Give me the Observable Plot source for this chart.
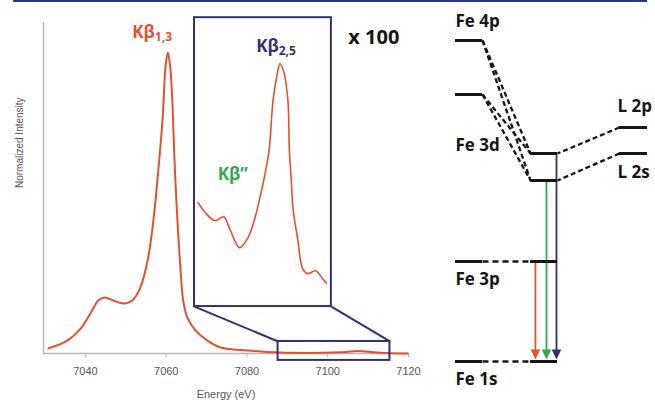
<!DOCTYPE html>
<html><head><meta charset="utf-8">
<script src="https://cdn.jsdelivr.net/npm/d3@7"></script>
<script src="https://cdn.jsdelivr.net/npm/@observablehq/plot@0.6"></script>
<style>
html,body{margin:0;padding:0;background:#fff;}
#chart{position:relative;width:655px;height:400px;overflow:hidden;background:#fff;}
#chart svg{position:absolute;}
#rule{position:absolute;left:13px;top:0;width:634px;height:2px;background:#2a3580;}
</style></head><body>
<div id="chart"><div id="rule"></div></div>
<script>
// ---- main Kβ spectrum (energy in eV, normalized intensity) ----
const energy = [7030.8,7035.5,7038.8,7041.2,7043.2,7044.7,7046.9,7049.4,7051.6,7053.6,7055.4,7056.8,7057.8,7059.1,7059.8,7060.4,7061.0,7061.5,7062.0,7062.5,7063.5,7064.2,7065.2,7067.3,7070.2,7073.5,7080.1,7088.3,7095.0,7103.0,7107.4,7110.6,7114.3,7119.8];
const intensity = [0.017,0.043,0.083,0.133,0.176,0.186,0.176,0.166,0.176,0.22,0.31,0.44,0.575,0.78,0.95,1.0,0.95,0.84,0.66,0.51,0.286,0.176,0.12,0.076,0.043,0.02,0.01,0.003,0.002,0.004,0.008,0.005,0.002,0.0];
// ---- valence-to-core region, magnified x 100 ----
const insetEnergy = [7088.4,7089.8,7091.8,7093.6,7094.8,7096.8,7098.6,7100.2,7100.8,7101.6,7102.2,7102.8,7103.6,7104.4,7105.0,7105.8,7106.6,7106.9,7107.3,7107.6,7108.6,7109.6,7110.6,7112.2,7113.6,7114.4];
const insetIntensity = [1.08,0.98,0.89,0.93,0.81,0.61,0.72,0.97,1.10,1.28,1.44,1.62,2.14,2.40,2.52,2.43,2.14,1.62,1.30,1.03,0.69,0.39,0.34,0.37,0.29,0.24];
const xTicks = [7040,7060,7080,7100,7120];
const zoomWindow = [7087.7,7115.4];
const peakLabels = ["Kβ_1,3","Kβ_2,5","Kβ”"];
const magnification = "x 100";
// ---- energy level diagram (arbitrary energy units) ----
const valenceNames = ["Fe 4p","Fe 3d"];
const valenceEnergies = [36.0,30.6];
const coreNames = ["Fe 3p","Fe 1s"];
const coreEnergies = [13.9,3.9];
const moEnergies = [24.7,22.0];
const ligandNames = ["L 2p","L 2s"];
const ligandEnergies = [27.3,24.7];
const transitionFrom = [13.9,22.0,24.7]; // Kβ1,3 / Kβ'' / Kβ2,5 -> Fe 1s

const RED="#e6502e", GREEN="#2faa4e", NAVY="#2e3272", INK="#161616";
const labelFont = "'Open Sans', 'DejaVu Sans', sans-serif";

const mainData = energy.map((e,i)=>({e, v:intensity[i]}));
const insetData = insetEnergy.map((e,i)=>({e, v:insetIntensity[i]}));

// layout of the inset window, in main-chart data units
const insetFrame = {x1:7067.0, x2:7100.9, y1:0.156, y2:1.116};
const zoomBoxY = [-0.023, 0.04];

const main = Plot.plot({
  width:430, height:400,
  marginLeft:43, marginRight:22, marginTop:22, marginBottom:47,
  style:{background:"transparent", overflow:"visible", fontFamily:"'Liberation Sans', Arial, sans-serif"},
  x:{domain:[7029.6,7120], label:null},
  y:{domain:[0,1.1], axis:null},
  marks:[
    Plot.ruleY([0], {stroke:"#b8b8b8", strokeWidth:1.5}),
    Plot.ruleX([7029.6], {stroke:"#b8b8b8", strokeWidth:1.5}),
    Plot.axisX(xTicks, {tickSize:4, tickPadding:10, tickFormat:"d", stroke:"#b8b8b8", fill:"#555", fontSize:11, label:null}),
    Plot.text(["Normalized Intensity"], {frameAnchor:"left", rotate:-90, dx:-24, fontSize:10, fill:"#555"}),
    Plot.text(["Energy (eV)"], {frameAnchor:"bottom", lineAnchor:"middle", dy:41, fontSize:11, fill:"#555"}),
    Plot.line(mainData, {x:"e", y:"v", curve:"catmull-rom", stroke:RED, strokeWidth:2}),
    Plot.rect([0], {x1:zoomWindow[0], x2:zoomWindow[1], y1:zoomBoxY[0], y2:zoomBoxY[1], fill:"none", stroke:NAVY, strokeWidth:2}),
    Plot.rect([0], {x1:insetFrame.x1, x2:insetFrame.x2, y1:insetFrame.y1, y2:insetFrame.y2, fill:"none", stroke:NAVY, strokeWidth:2}),
    Plot.link([
      {x1:insetFrame.x1, y1:insetFrame.y1, x2:zoomWindow[0], y2:zoomBoxY[1]},
      {x1:insetFrame.x2, y1:insetFrame.y1, x2:zoomWindow[1], y2:zoomBoxY[1]}
    ], {x1:"x1", y1:"y1", x2:"x2", y2:"y2", stroke:NAVY, strokeWidth:2}),
    Plot.text([peakLabels[0]], {x:7051.6, y:1.05, textAnchor:"start", lineAnchor:"bottom", fill:RED, fontSize:17, fontWeight:"bold", fontFamily:labelFont}),
    Plot.text([magnification], {x:7105.1, y:1.03, textAnchor:"start", lineAnchor:"bottom", fill:INK, fontSize:20, fontWeight:"bold", fontFamily:labelFont})
  ]
});

const sx = main.scale("x"), sy = main.scale("y");
const iLeft = sx.apply(insetFrame.x1), iRight = sx.apply(insetFrame.x2);
const iTop = sy.apply(insetFrame.y2), iBottom = sy.apply(insetFrame.y1);

const inset = Plot.plot({
  width:iRight-iLeft, height:iBottom-iTop, margin:0,
  style:{background:"transparent", overflow:"visible"},
  x:{domain:zoomWindow, axis:null},
  y:{domain:[0,3], axis:null},
  marks:[
    Plot.line(insetData, {x:"e", y:"v", curve:"catmull-rom", stroke:RED, strokeWidth:1.6}),
    Plot.text([peakLabels[1]], {x:7100.2, y:2.64, textAnchor:"start", lineAnchor:"bottom", fill:NAVY, fontSize:17, fontWeight:"bold", fontFamily:labelFont}),
    Plot.text([peakLabels[2]], {x:7092.4, y:1.31, textAnchor:"start", lineAnchor:"bottom", fill:GREEN, fontSize:17, fontWeight:"bold", fontFamily:labelFont})
  ]
});
inset.style.left = iLeft+"px";
inset.style.top = iTop+"px";

// ---- diagram ----
const FE=[0,1], MO=[2.78,3.78], LIG=[6.07,7.11];
const arrowX=[2.96,3.37,3.74], arrowColor=[RED,GREEN,NAVY];
const arrowHead = {draw(ctx){ ctx.moveTo(0,0); ctx.lineTo(-4.8,-10); ctx.lineTo(4.8,-10); ctx.closePath(); }};
const groundE = coreEnergies[1];

const valenceLinks = [];
valenceEnergies.forEach(e=>moEnergies.forEach(m=>valenceLinks.push({x1:FE[1], y1:e, x2:MO[0], y2:m})));
const ligandLinks = ligandEnergies.map((e,i)=>({x1:LIG[0], y1:e, x2:MO[1], y2:moEnergies[i]}));
const coreLinks = coreEnergies.map(e=>({x1:FE[1], y1:e, x2:MO[0], y2:e}));
const arrows = transitionFrom.map((e,i)=>({x:arrowX[i], y1:e, y2:groundE+0.9, c:arrowColor[i]}));

const txt = (names, energies, x, dy, anchor) => Plot.text(names.map((n,i)=>({n, e:energies[i]})), {x, y:"e", text:"n", dy, textAnchor:anchor, fontSize:17, fontWeight:"bold", fill:INK, fontFamily:labelFont});

const diag = Plot.plot({
  width:235, height:400, marginLeft:35, marginRight:0.2, marginTop:0, marginBottom:0,
  style:{background:"transparent", overflow:"visible"},
  x:{domain:[0,7.4], axis:null},
  y:{domain:[0,40], axis:null},
  marks:[
    Plot.link(valenceLinks, {x1:"x1", y1:"y1", x2:"x2", y2:"y2", stroke:INK, strokeWidth:2.3, strokeDasharray:"5,3"}),
    Plot.link(ligandLinks, {x1:"x1", y1:"y1", x2:"x2", y2:"y2", stroke:INK, strokeWidth:2.3, strokeDasharray:"5,3"}),
    Plot.link(coreLinks, {x1:"x1", y1:"y1", x2:"x2", y2:"y2", stroke:INK, strokeWidth:2.3, strokeDasharray:"6,4"}),
    Plot.ruleX(arrows, {x:"x", y1:"y1", y2:"y2", stroke:"c", strokeWidth:1.8}),
    Plot.ruleY(valenceEnergies.concat(coreEnergies), {x1:FE[0], x2:FE[1], stroke:INK, strokeWidth:3}),
    Plot.ruleY(moEnergies.concat(coreEnergies), {x1:MO[0], x2:MO[1], stroke:INK, strokeWidth:3}),
    Plot.ruleY(ligandEnergies, {x1:LIG[0], x2:LIG[1], stroke:INK, strokeWidth:3}),
    Plot.dot(arrows, {x:"x", y:groundE, symbol:arrowHead, fill:"c", stroke:null, r:5, dy:-2}),
    txt([valenceNames[0]], [valenceEnergies[0]], FE[0], -19, "start"),
    txt([valenceNames[1]], [valenceEnergies[1]], FE[0], 51, "start"),
    txt(coreNames, coreEnergies, FE[0], 18, "start"),
    txt([ligandNames[0]], [ligandEnergies[0]], LIG[0]-0.07, -21, "start"),
    txt([ligandNames[1]], [ligandEnergies[1]], LIG[0]-0.07, 19, "start")
  ]
});
diag.style.left = "420px";
diag.style.top = "0px";

function subscripts(svg){
  svg.querySelectorAll("text").forEach(el=>{
    const t = el.textContent; const k = t.indexOf("_");
    if (k < 0) return;
    el.textContent = t.slice(0,k);
    const ts = document.createElementNS("http://www.w3.org/2000/svg","tspan");
    ts.setAttribute("font-size","12");
    ts.setAttribute("dy","3");
    ts.textContent = t.slice(k+1);
    el.appendChild(ts);
  });
}
[main, inset, diag].forEach(subscripts);

const chart = document.getElementById("chart");
main.style.left="0px"; main.style.top="0px";
chart.appendChild(main);
chart.appendChild(inset);
chart.appendChild(diag);
</script>
</body></html>
